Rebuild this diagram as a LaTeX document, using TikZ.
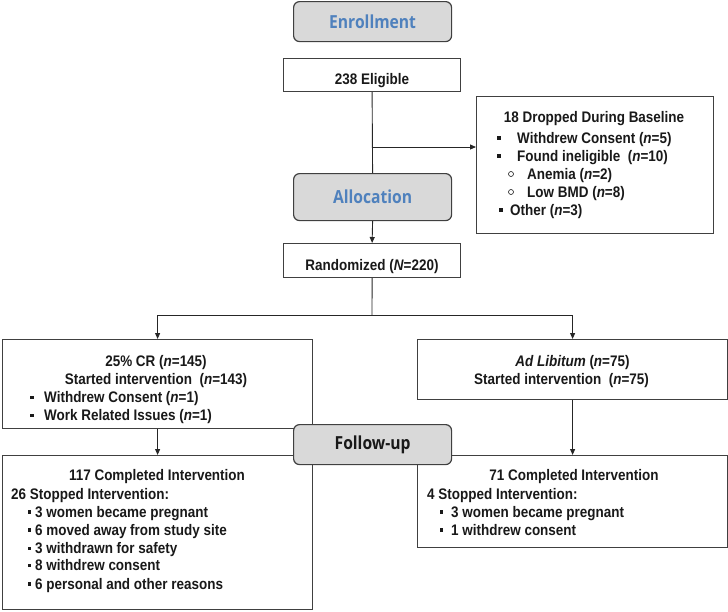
\documentclass[tikz,border=0pt]{standalone}
\usepackage{fontspec}
\setmainfont{Liberation Sans}[FakeStretch=0.88]
\newfontfamily\headfont{Open Sans}[FakeStretch=0.87]
\usetikzlibrary{arrows.meta}
\definecolor{hdblue}{RGB}{79,129,189}
\definecolor{hdgray}{RGB}{217,217,217}
\definecolor{edgec}{RGB}{64,64,64}
\newcommand{\nit}{\textit{n}}
\begin{document}
\begin{tikzpicture}[x=1pt,y=-1pt,
  box/.style={draw=edgec, line width=1.2pt, fill=white, inner sep=0pt, anchor=north west},
  head/.style={draw=edgec, line width=1.2pt, fill=hdgray, rounded corners=6pt, inner sep=0pt, anchor=north west,
    font=\headfont\bfseries\fontsize{18}{21}\selectfont},
  txt/.style={inner sep=0pt, font=\bfseries\fontsize{15.3}{18}\selectfont, text=black!90},
  sq/.style={fill=black!90, minimum size=3.6pt, inner sep=0pt},
  circ/.style={circle, draw=black!90, line width=0.6pt, minimum size=5pt, inner sep=0pt},
  conn/.style={line width=0.9pt, draw=black!85},
  arr/.style={conn, -{Triangle[length=6pt,width=5pt]}}]
\useasboundingbox (0,0) rectangle (728,611);

% boxes
\node[head, minimum width=158pt, minimum height=40pt, text=hdblue] (enroll) at (293,1) {Enrollment};
\node[box, minimum width=177pt, minimum height=33pt] (elig) at (283,58) {};
\node[txt, anchor=base] (eligt) at (372,84) {238 Eligible};
\node[box, minimum width=237pt, minimum height=137pt] (drop) at (476,96) {};
\node[head, minimum width=158pt, minimum height=47pt, text=hdblue] (alloc) at (293,173) {Allocation};
\node[box, minimum width=177pt, minimum height=34pt] (rand) at (283,243) {};
\node[txt, anchor=base] (randt) at (372,270) {Randomized (\textit{N}=220)};
\node[box, minimum width=310pt, minimum height=89pt] (cr) at (2,339) {};
\node[box, minimum width=310pt, minimum height=60pt] (al) at (417,339) {};
\node[box, minimum width=310pt, minimum height=154pt] (crf) at (2,455) {};
\node[box, minimum width=310pt, minimum height=92pt] (alf) at (417,455) {};

% connectors
\coordinate (br) at (372,147);
\coordinate (split) at (372,315);
\draw[conn] (elig.south) -- (alloc.north);
\draw[arr] (br) -- (br -| drop.west);
\draw[arr] (alloc.south) -- (rand.north);
\draw[conn] (rand.south) -- (split);
\draw[arr] (split) -| (cr.north);
\draw[arr] (split) -| (al.north);
\draw[arr] (cr.south) -- (crf.north);
\draw[arr] (al.south) -- (alf.north);

% dropped box text
\node[txt, anchor=base] (d1) at (594,122.5) {18 Dropped During Baseline};
\node[sq] (d2b) at (499,138) {};
\node[txt, anchor=base west] (d2) at (517,143) {Withdrew Consent (\nit=5)};
\node[sq] (d3b) at (499,156) {};
\node[txt, anchor=base west] (d3) at (517,161) {Found ineligible\ \ (\nit=10)};
\node[circ] (d4b) at (511,174) {};
\node[txt, anchor=base west] (d4) at (527,179) {Anemia (\nit=2)};
\node[circ] (d5b) at (511,192) {};
\node[txt, anchor=base west] (d5) at (527,197) {Low BMD (\nit=8)};
\node[sq] (d6b) at (501,210) {};
\node[txt, anchor=base west] (d6) at (510,215) {Other (\nit=3)};

% CR box text
\node[txt, anchor=base] (c1) at (156,366) {25\% CR (\nit=145)};
\node[txt, anchor=base] (c2) at (156,384) {Started intervention\ \ (\nit=143)};
\node[sq] (c3b) at (32,397.5) {};
\node[txt, anchor=base west] (c3) at (44,402.5) {Withdrew Consent (\nit=1)};
\node[sq] (c4b) at (32,415.5) {};
\node[txt, anchor=base west] (c4) at (44,420.5) {Work Related Issues (\nit=1)};

% Ad libitum box text
\node[txt, anchor=base] (a1) at (572.5,366) {\textit{Ad Libitum} (\nit=75)};
\node[txt, anchor=base] (a2) at (561.5,384) {Started intervention\ \ (\nit=75)};

% CR follow-up text
\node[txt, anchor=base] (f1) at (157,480.5) {117 Completed Intervention};
\node[txt, anchor=base west] (f2) at (11,499) {26 Stopped Intervention:};
\node[sq] (f3b) at (29.5,512) {};
\node[txt, anchor=base west] (f3) at (35,517) {3 women became pregnant};
\node[sq] (f4b) at (29.5,530) {};
\node[txt, anchor=base west] (f4) at (35,535) {6 moved away from study site};
\node[sq] (f5b) at (29.5,548.5) {};
\node[txt, anchor=base west] (f5) at (35,553.5) {3 withdrawn for safety};
\node[sq] (f6b) at (29.5,565.5) {};
\node[txt, anchor=base west] (f6) at (35,570.5) {8 withdrew consent};
\node[sq] (f7b) at (29.5,584) {};
\node[txt, anchor=base west] (f7) at (35,589) {6 personal and other reasons};

% AL follow-up text
\node[txt, anchor=base] (g1) at (574,480.5) {71 Completed Intervention};
\node[txt, anchor=base west] (g2) at (427,499) {4 Stopped Intervention:};
\node[sq] (g3b) at (441.5,512) {};
\node[txt, anchor=base west] (g3) at (451,517) {3 women became pregnant};
\node[sq] (g4b) at (441.5,530) {};
\node[txt, anchor=base west] (g4) at (451,535) {1 withdrew consent};

% follow-up header drawn on top
\node[head, minimum width=158pt, minimum height=40pt, text=black!90] (follow) at (293,424) {Follow-up};
\end{tikzpicture}
\end{document}
